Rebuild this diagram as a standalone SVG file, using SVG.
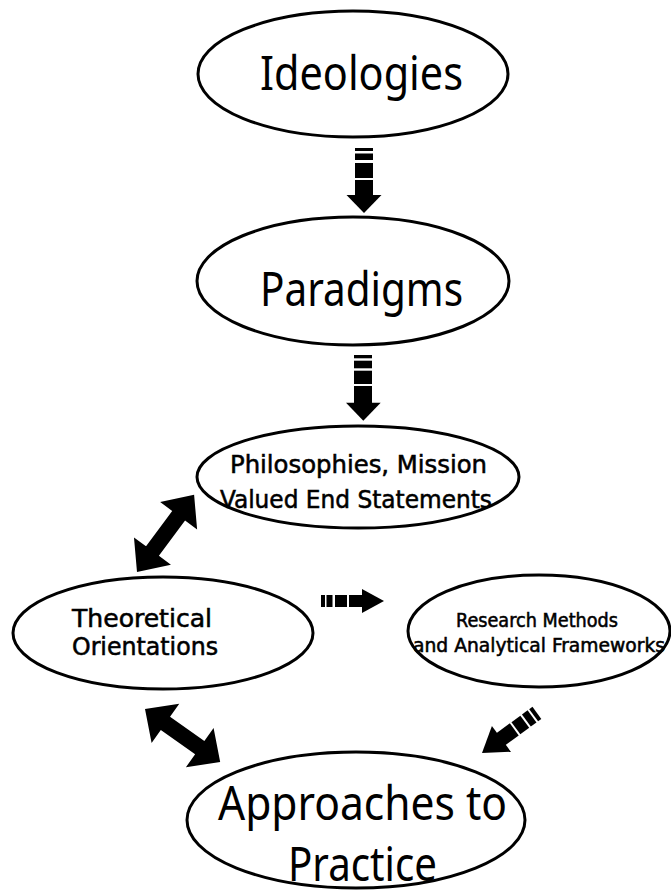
<svg xmlns="http://www.w3.org/2000/svg" width="671" height="891" viewBox="0 0 671 891">
<style>
.node ellipse{fill:#fff;stroke:#000;stroke-width:3}
.big{font-family:"Noto Sans","Open Sans","Liberation Sans",sans-serif;font-size:47px;fill:#000}
.small{font-family:"DejaVu Sans Condensed","DejaVu Sans","Liberation Sans",sans-serif;fill:#000;stroke:#000;stroke-width:0.5}
.arr{fill:#000;stroke:none}
</style>
<rect width="671" height="891" fill="#fff"/>
<g id="connectors">
  <g id="arrow-ideologies-paradigms" class="arr">
    <rect x="355" y="148" width="18" height="3"/>
    <rect x="355" y="153.5" width="18" height="6.5"/>
    <rect x="355" y="163" width="18" height="15"/>
    <rect x="355" y="180" width="18" height="16"/>
    <polygon points="346.5,195 381.5,195 364,213"/>
  </g>
  <g id="arrow-paradigms-philosophies" class="arr">
    <rect x="354" y="355" width="18" height="3.3"/>
    <rect x="354" y="360.7" width="18" height="7.6"/>
    <rect x="354" y="370.7" width="18" height="13.3"/>
    <rect x="354" y="386" width="18" height="17"/>
    <polygon points="346,402.7 380.7,402.7 363.3,420.7"/>
  </g>
  <g id="arrow-philosophies-theoretical" class="arr" transform="translate(137,572) rotate(-53.5)">
    <polygon points="0,0 26,-23 26,-8 70,-8 70,-23 96,0 70,23 70,8 26,8 26,23"/>
  </g>
  <g id="arrow-theoretical-research" class="arr">
    <rect x="321" y="595" width="4" height="12"/>
    <rect x="326.5" y="595" width="6" height="12"/>
    <rect x="335" y="595" width="12" height="12"/>
    <rect x="349" y="595" width="14" height="12"/>
    <polygon points="362,589 362,613 384,601"/>
  </g>
  <g id="arrow-research-approaches" class="arr" transform="translate(482,753) rotate(-36.2)">
    <rect x="22" y="-7.5" width="18" height="15"/>
    <rect x="42" y="-7.5" width="11" height="15"/>
    <rect x="55" y="-7.5" width="7" height="15"/>
    <rect x="64" y="-7.5" width="4" height="15"/>
    <polygon points="0,0 24,-16 24,16"/>
  </g>
  <g id="arrow-theoretical-approaches" class="arr" transform="translate(145,709) rotate(35.2)">
    <polygon points="0,0 25,-24 25,-8 67,-8 67,-24 92,0 67,24 67,8 25,8 25,24"/>
  </g>
</g>
<g id="node-ideologies" class="node">
  <ellipse cx="353" cy="74" rx="155" ry="63"/>
  <text class="big" x="260" y="90" textLength="203" lengthAdjust="spacingAndGlyphs">Ideologies</text>
</g>
<g id="node-paradigms" class="node">
  <ellipse cx="353" cy="281" rx="156" ry="64"/>
  <text class="big" x="260" y="306" textLength="203" lengthAdjust="spacingAndGlyphs">Paradigms</text>
</g>
<g id="node-philosophies" class="node">
  <ellipse cx="358" cy="477" rx="161" ry="51"/>
  <text class="small" font-size="24" x="230" y="473" textLength="257" lengthAdjust="spacingAndGlyphs">Philosophies, Mission</text>
  <text class="small" font-size="24" x="220" y="508" textLength="272" lengthAdjust="spacingAndGlyphs">Valued End Statements</text>
</g>
<g id="node-theoretical" class="node">
  <ellipse cx="163" cy="633" rx="150" ry="56"/>
  <text class="small" font-size="24" x="72" y="627" textLength="140" lengthAdjust="spacingAndGlyphs">Theoretical</text>
  <text class="small" font-size="24" x="72" y="655" textLength="146" lengthAdjust="spacingAndGlyphs">Orientations</text>
</g>
<g id="node-research" class="node">
  <ellipse cx="539" cy="631" rx="131" ry="56"/>
  <text class="small" font-size="19" x="456" y="627" textLength="162" lengthAdjust="spacingAndGlyphs">Research Methods</text>
  <text class="small" font-size="19" x="413" y="652" textLength="252" lengthAdjust="spacingAndGlyphs">and Analytical Frameworks</text>
</g>
<g id="node-approaches" class="node">
  <ellipse cx="356" cy="820" rx="169" ry="68"/>
  <text class="big" x="218" y="820" textLength="289" lengthAdjust="spacingAndGlyphs">Approaches to</text>
  <text class="big" x="288" y="881" textLength="149" lengthAdjust="spacingAndGlyphs">Practice</text>
</g>
</svg>
